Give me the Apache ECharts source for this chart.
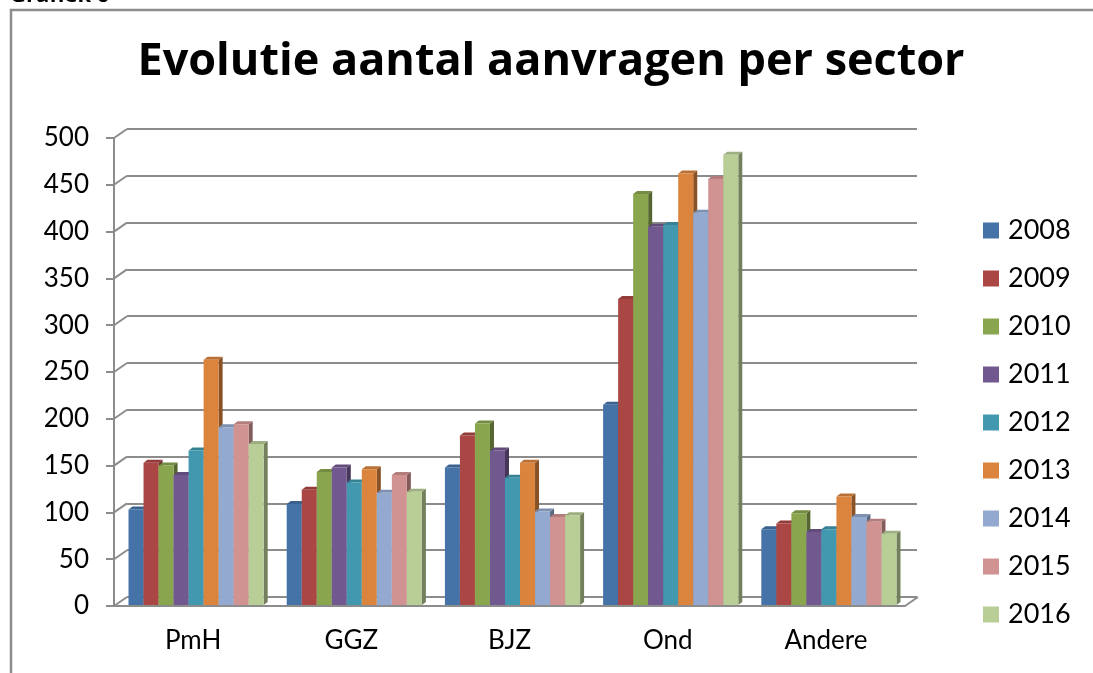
<!DOCTYPE html>
<html>
<head>
<meta charset="utf-8">
<script src="https://cdn.jsdelivr.net/npm/echarts@6/dist/echarts.min.js"></script>
<style>html,body{margin:0;padding:0;background:#fff;}#c{width:1093px;height:673px;}</style>
</head>
<body>
<div id="c"></div>
<script>
const categories = ['PmH', 'GGZ', 'BJZ', 'Ond', 'Andere'];
const years = ['2008', '2009', '2010', '2011', '2012', '2013', '2014', '2015', '2016'];
const v2008 = [102, 108, 147, 214, 81];
const v2009 = [152, 123, 181, 327, 87];
const v2010 = [149, 142, 194, 439, 98];
const v2011 = [139, 147, 165, 404, 78];
const v2012 = [165, 131, 136, 406, 81];
const v2013 = [262, 145, 152, 461, 116];
const v2014 = [190, 120, 100, 419, 94];
const v2015 = [193, 139, 94, 455, 89];
const v2016 = [172, 121, 96, 481, 76];
const seriesValues = [v2008, v2009, v2010, v2011, v2012, v2013, v2014, v2015, v2016];
const yTicks = [0, 50, 100, 150, 200, 250, 300, 350, 400, 450, 500];
const colors = ['#4572A7', '#AA4643', '#89A54E', '#71588F', '#4198AF', '#DB843D', '#93A9CF', '#D19392', '#B9CD96'];

function shade(hex, f) {
  const n = parseInt(hex.slice(1), 16);
  const r = Math.round(((n >> 16) & 255) * f), g = Math.round(((n >> 8) & 255) * f), b = Math.round((n & 255) * f);
  return 'rgb(' + r + ',' + g + ',' + b + ')';
}

const DX = 4, DY = 3;
function barRender(si) {
  return function (params, api) {
    const cat = api.value(0), val = api.value(1);
    const base = api.coord([cat, 0]);
    const top = api.coord([cat, val]);
    const catW = api.size([1, 0])[0];
    const bw = catW * 135 / 158 / 9;
    const x0 = base[0] - 4.5 * bw + si * bw + 3;
    const yb = base[1] - 1, yt = top[1] - 1;
    const x1 = x0 + bw;
    const c = colors[si];
    return {
      type: 'group',
      children: [
        { type: 'polygon', shape: { points: [[x1, yt], [x1 + DX, yt - DY], [x1 + DX, yb - DY], [x1, yb]] }, style: { fill: shade(c, 0.62) } },
        { type: 'polygon', shape: { points: [[x0, yt], [x0 + DX, yt - DY], [x1 + DX, yt - DY], [x1, yt]] }, style: { fill: shade(c, 0.85) } },
        { type: 'rect', shape: { x: x0, y: yt, width: bw, height: yb - yt }, style: { fill: c } }
      ]
    };
  };
}

const series = [];
years.forEach(function (y, i) {
  series.push({
    name: y,
    type: 'custom',
    xAxisIndex: 0, yAxisIndex: 0,
    z: 3,
    itemStyle: { color: colors[i] },
    renderItem: barRender(i),
    data: seriesValues[i].map(function (v, k) { return [k, v]; })
  });
});
series.push({
  name: 'wall',
  type: 'custom',
  xAxisIndex: 0, yAxisIndex: 0,
  z: 1, silent: true,
  renderItem: function (params, api) {
    const cs = params.coordSys;
    const p = api.coord([0, api.value(0)]);
    const st = { stroke: '#8c8c8c', lineWidth: 2, fill: null };
    const ch = [{ type: 'line', shape: { x1: cs.x, y1: p[1], x2: cs.x + 13, y2: p[1] - 9 }, style: st }];
    if (api.value(0) === 0) {
      ch.push({ type: 'line', shape: { x1: cs.x + cs.width, y1: p[1], x2: cs.x + cs.width + 13, y2: p[1] - 9 }, style: st });
    }
    return { type: 'group', children: ch };
  },
  data: yTicks.map(function (t) { return [t]; }),
  encode: { y: 0 }
});

const chart = echarts.init(document.getElementById('c'));
chart.setOption({
  animation: false,
  color: colors,
  grid: [
    { left: 114, top: 138, width: 791, height: 468 },
    { left: 127, top: 129, width: 790, height: 468 }
  ],
  xAxis: [
    { type: 'category', gridIndex: 0, data: categories,
      axisLine: { lineStyle: { color: '#8c8c8c', width: 2 } },
      axisTick: { length: 8, lineStyle: { color: '#8c8c8c', width: 2 } },
      axisLabel: { color: '#000', fontFamily: 'Lato', fontSize: 26, margin: 22 } },
    { type: 'category', gridIndex: 1, data: categories, show: false }
  ],
  yAxis: [
    { type: 'value', gridIndex: 0, min: 0, max: 500, interval: 50,
      axisLine: { show: true, lineStyle: { color: '#8c8c8c', width: 2 } },
      axisTick: { show: true, length: 8, lineStyle: { color: '#8c8c8c', width: 2 } },
      splitLine: { show: false },
      axisLabel: { color: '#000', fontFamily: 'Lato', fontSize: 26, margin: 25 } },
    { type: 'value', gridIndex: 1, min: 0, max: 500, interval: 50,
      axisLine: { show: false }, axisTick: { show: false }, axisLabel: { show: false },
      splitLine: { show: true, lineStyle: { color: '#8c8c8c', width: 2 } } }
  ],
  legend: {
    orient: 'vertical', left: 978, top: 212,
    data: years, icon: 'rect', itemWidth: 16, itemHeight: 16, itemGap: 21,
    textStyle: { color: '#000', fontFamily: 'Lato', fontSize: 27, padding: [0, 0, 0, 4] }
  },
  graphic: [
    { type: 'polyline', shape: { points: [[11, 673], [11, 10], [1093, 10]] }, style: { stroke: '#8c8c8c', lineWidth: 2.5, fill: null } },
    { type: 'text', style: { text: 'Grafiek 6', x: 10, y: -15, font: 'bold 22px "Open Sans"', fill: '#000' } },
    { type: 'text', style: { text: 'Evolutie aantal aanvragen per sector', x: 551, y: 62, textAlign: 'center', textVerticalAlign: 'middle', font: 'bold 45px "Open Sans"', fill: '#000' } }
  ],
  series: series
});
</script>
</body>
</html>
